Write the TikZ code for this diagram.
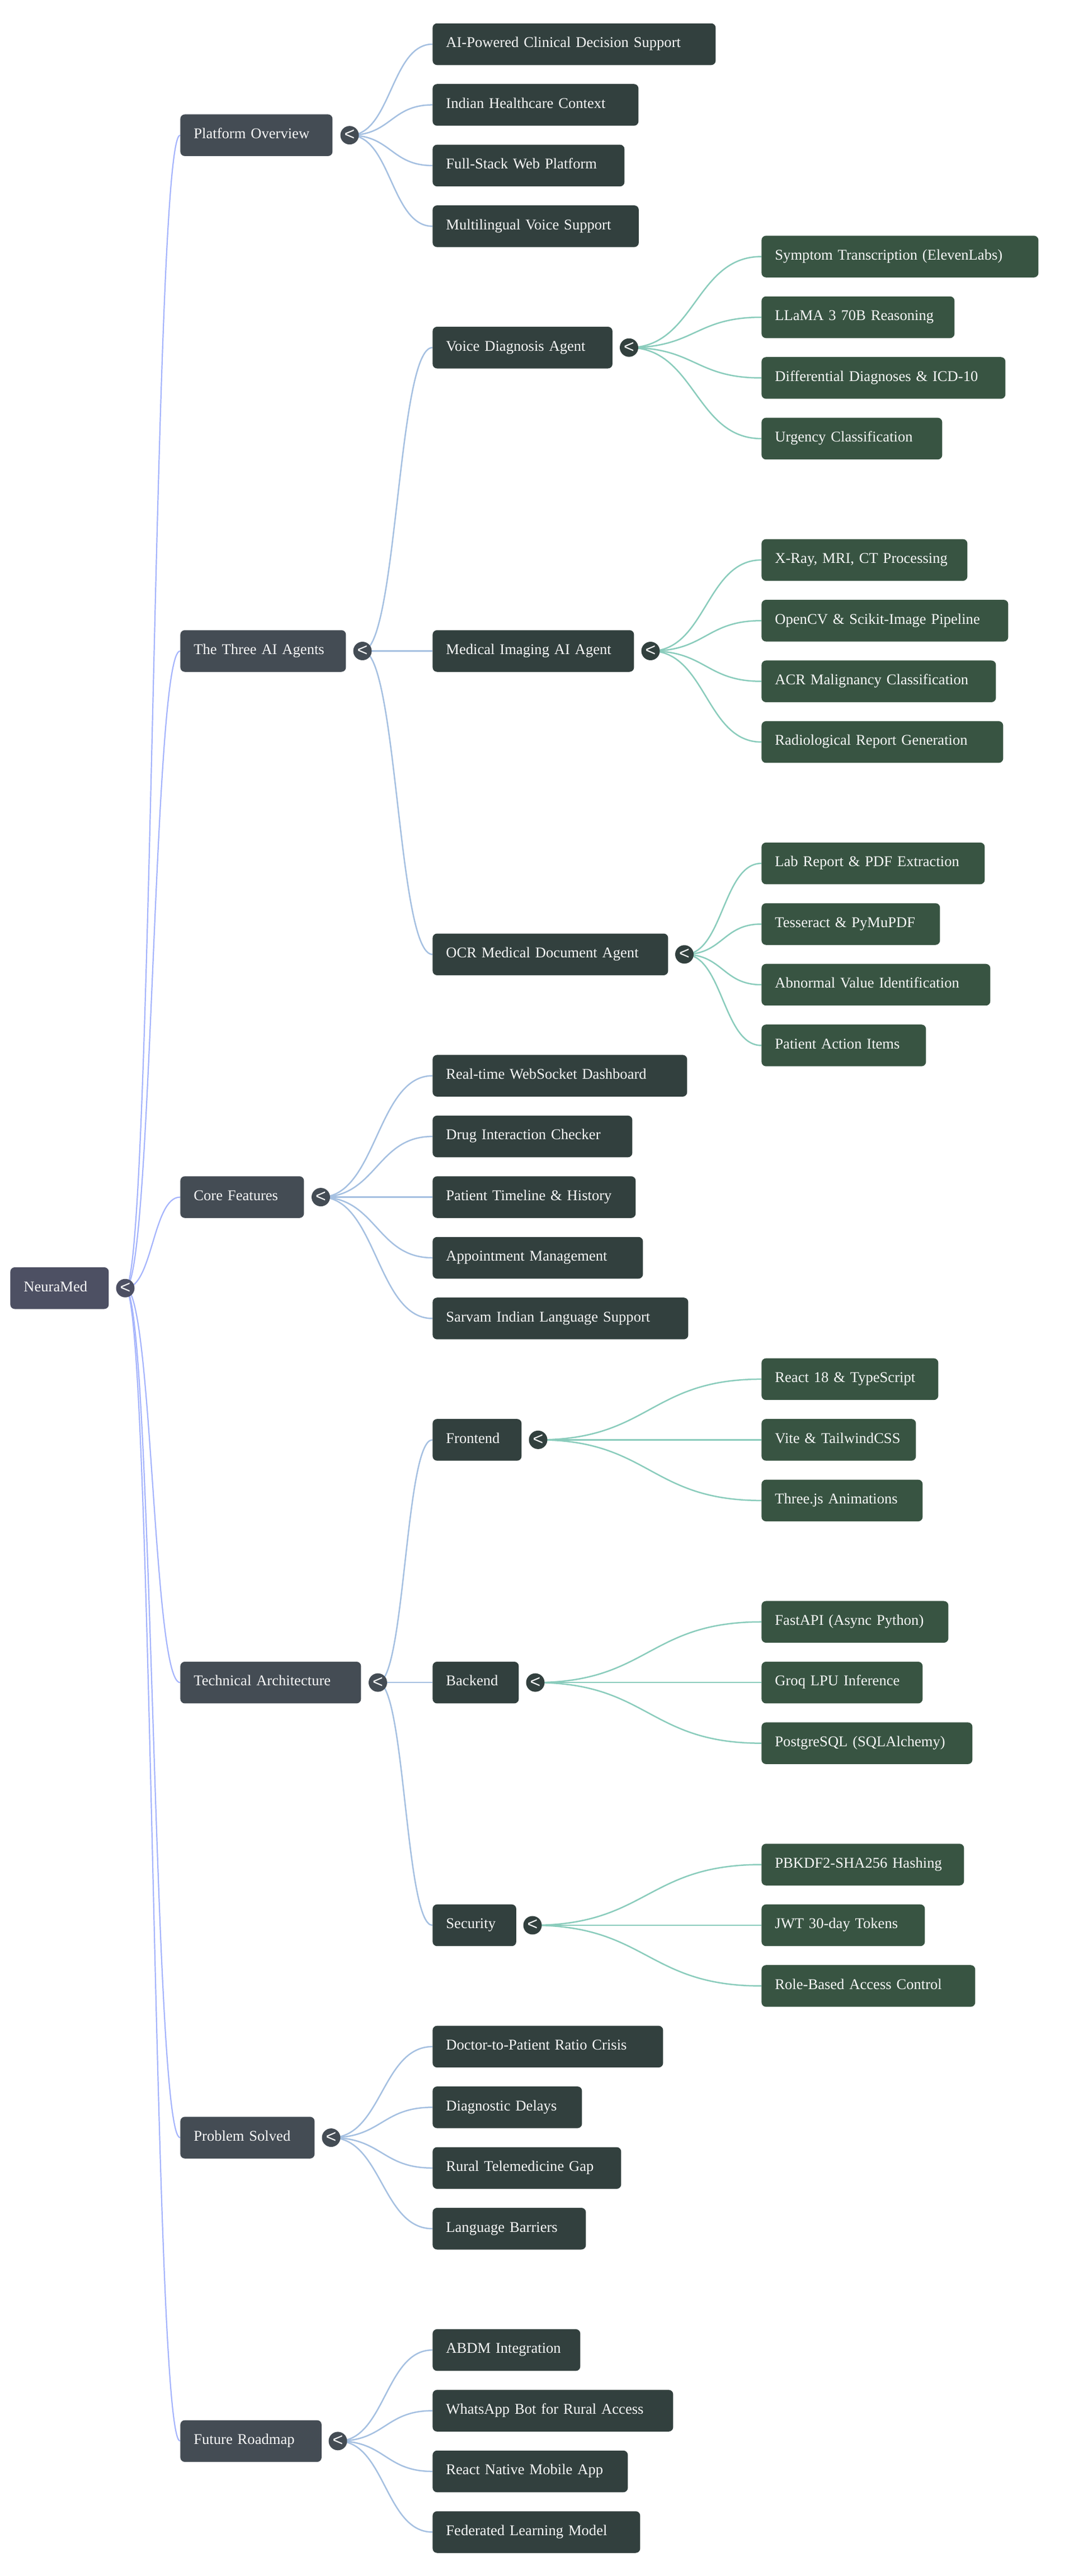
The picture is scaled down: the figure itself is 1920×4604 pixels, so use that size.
\documentclass[tikz,border=0pt]{standalone}
\usepackage{fontspec}
\setmainfont{Liberation Serif}
\newfontfamily\chevfont{Liberation Sans}
\usetikzlibrary{calc,backgrounds}
\definecolor{rootfill}{HTML}{4D5063}
\definecolor{onefill}{HTML}{444C54}
\definecolor{twofill}{HTML}{32403E}
\definecolor{leaffill}{HTML}{385442}
\definecolor{rootedge}{HTML}{A5B4FC}
\definecolor{oneedge}{HTML}{A5C0E1}
\definecolor{twoedge}{HTML}{8ACCBC}
\definecolor{labeltext}{HTML}{F7F7F7}
\tikzset{
  x=0.5pt,y=-0.5pt,
  mmbox/.style={rectangle,rounded corners=4pt,anchor=west,inner xsep=12pt,inner ysep=0pt,
    text height=21.5pt,text depth=15.75pt,align=left,text=labeltext,
    font=\fontsize{13.3pt}{16pt}\selectfont},
  rootbox/.style={mmbox,fill=rootfill},
  onebox/.style={mmbox,fill=onefill},
  twobox/.style={mmbox,fill=twofill},
  leafbox/.style={mmbox,fill=leaffill},
  mmfold/.style={circle,minimum size=16.5pt,inner sep=0pt,text=labeltext,
    font=\chevfont\fontsize{16pt}{16pt}\selectfont},
  rootlink/.style={draw=rootedge,line width=1.1pt},
  onelink/.style={draw=oneedge,line width=1.25pt},
  twolink/.style={draw=twoedge,line width=1.25pt},
}
% name, style, left, right, row, text
\newcommand{\mnode}[6]{%
  \pgfmathsetmacro{\mmw}{(#4-#3-48)*0.5}%
  \pgfmathsetmacro{\mmy}{79+108.45*#5}%
  \node[#2,text width=\mmw pt] (#1) at (#3,\mmy) {#6};}
% name, fill, centre x, row
\newcommand{\mfold}[4]{%
  \pgfmathsetmacro{\mmy}{79+108.45*#4}%
  \node[mmfold,fill=#2] (#1) at (#3,\mmy) {\raisebox{0.4pt}{<}};}
% style, from, to
\newcommand{\mlink}[3]{%
  \draw[#1] (#2.center) .. controls ($(#2.center)!0.5!(#3.west |- #2.center)$)
    and ($(#2.center |- #3.west)!0.5!(#3.west)$) .. (#3.west);}
\begin{document}
\begin{tikzpicture}
\useasboundingbox (0,0) rectangle (1920,4604);
% root
\mnode{root}{rootbox}{18}{194}{20.5}{NeuraMed}
\mfold{rootf}{rootfill}{224}{20.5}
% level one
\mnode{pl}{onebox}{322}{594}{1.5}{Platform Overview}
\mfold{plf}{onefill}{625}{1.5}
\mnode{ag}{onebox}{322}{618}{10}{The Three AI Agents}
\mfold{agf}{onefill}{648}{10}
\mnode{co}{onebox}{322}{543}{19}{Core Features}
\mfold{cof}{onefill}{573.5}{19}
\mnode{te}{onebox}{322}{645}{27}{Technical Architecture}
\mfold{tef}{onefill}{675.5}{27}
\mnode{pr}{onebox}{322}{562}{34.5}{Problem Solved}
\mfold{prf}{onefill}{592}{34.5}
\mnode{fu}{onebox}{322}{574.5}{39.5}{Future Roadmap}
\mfold{fuf}{onefill}{604}{39.5}
% platform children
\mnode{pa}{twobox}{773}{1279}{0}{AI-Powered Clinical Decision Support}
\mnode{pb}{twobox}{773}{1141}{1}{Indian Healthcare Context}
\mnode{pc}{twobox}{773}{1116}{2}{Full-Stack Web Platform}
\mnode{pd}{twobox}{773}{1141.5}{3}{Multilingual Voice Support}
% agents
\mnode{va}{twobox}{773}{1094.5}{5}{Voice Diagnosis Agent}
\mfold{vaf}{twofill}{1124.5}{5}
\mnode{ma}{twobox}{773}{1133}{10}{Medical Imaging AI Agent}
\mfold{maf}{twofill}{1163}{10}
\mnode{oa}{twobox}{773}{1194}{15}{OCR Medical Document Agent}
\mfold{oaf}{twofill}{1223.5}{15}
\mnode{va1}{leafbox}{1361}{1856}{3.5}{Symptom Transcription (ElevenLabs)}
\mnode{va2}{leafbox}{1361}{1706}{4.5}{LLaMA 3 70B Reasoning}
\mnode{va3}{leafbox}{1361}{1797}{5.5}{Differential Diagnoses \& ICD-10}
\mnode{va4}{leafbox}{1361}{1684}{6.5}{Urgency Classification}
\mnode{ma1}{leafbox}{1361}{1729}{8.5}{X-Ray, MRI, CT Processing}
\mnode{ma2}{leafbox}{1361}{1802}{9.5}{OpenCV \& Scikit-Image Pipeline}
\mnode{ma3}{leafbox}{1361}{1780}{10.5}{ACR Malignancy Classification}
\mnode{ma4}{leafbox}{1361}{1793}{11.5}{Radiological Report Generation}
\mnode{oa1}{leafbox}{1361}{1760}{13.5}{Lab Report \& PDF Extraction}
\mnode{oa2}{leafbox}{1361}{1680}{14.5}{Tesseract \& PyMuPDF}
\mnode{oa3}{leafbox}{1361}{1770}{15.5}{Abnormal Value Identification}
\mnode{oa4}{leafbox}{1361}{1655}{16.5}{Patient Action Items}
% core
\mnode{ca}{twobox}{773}{1228}{17}{Real-time WebSocket Dashboard}
\mnode{cb}{twobox}{773}{1130}{18}{Drug Interaction Checker}
\mnode{cc}{twobox}{773}{1136}{19}{Patient Timeline \& History}
\mnode{cd}{twobox}{773}{1149}{20}{Appointment Management}
\mnode{ce}{twobox}{773}{1230}{21}{Sarvam Indian Language Support}
% technical
\mnode{fe}{twobox}{773}{932}{23}{Frontend}
\mfold{fef}{twofill}{962}{23}
\mnode{be}{twobox}{773}{927}{27}{Backend}
\mfold{bef}{twofill}{957}{27}
\mnode{se}{twobox}{773}{922.5}{31}{Security}
\mfold{sef}{twofill}{952}{31}
\mnode{fe1}{leafbox}{1361}{1677}{22}{React 18 \& TypeScript}
\mnode{fe2}{leafbox}{1361}{1637}{23}{Vite \& TailwindCSS}
\mnode{fe3}{leafbox}{1361}{1649}{24}{Three.js Animations}
\mnode{be1}{leafbox}{1361}{1695}{26}{FastAPI (Async Python)}
\mnode{be2}{leafbox}{1361}{1649}{27}{Groq LPU Inference}
\mnode{be3}{leafbox}{1361}{1738}{28}{PostgreSQL (SQLAlchemy)}
\mnode{se1}{leafbox}{1361}{1723}{30}{PBKDF2-SHA256 Hashing}
\mnode{se2}{leafbox}{1361}{1653}{31}{JWT 30-day Tokens}
\mnode{se3}{leafbox}{1361}{1743}{32}{Role-Based Access Control}
% problem
\mnode{ra}{twobox}{773}{1185}{33}{Doctor-to-Patient Ratio Crisis}
\mnode{rb}{twobox}{773}{1040}{34}{Diagnostic Delays}
\mnode{rc}{twobox}{773}{1110}{35}{Rural Telemedicine Gap}
\mnode{rd}{twobox}{773}{1047}{36}{Language Barriers}
% roadmap
\mnode{ua}{twobox}{773}{1037}{38}{ABDM Integration}
\mnode{ub}{twobox}{773}{1203}{39}{WhatsApp Bot for Rural Access}
\mnode{uc}{twobox}{773}{1122}{40}{React Native Mobile App}
\mnode{ud}{twobox}{773}{1144}{41}{Federated Learning Model}
% connectors
\begin{scope}[on background layer]
\foreach \t in {pl,ag,co,te,pr,fu} {\mlink{rootlink}{rootf}{\t}}
\foreach \t in {pa,pb,pc,pd} {\mlink{onelink}{plf}{\t}}
\foreach \t in {va,ma,oa} {\mlink{onelink}{agf}{\t}}
\foreach \t in {ca,cb,cc,cd,ce} {\mlink{onelink}{cof}{\t}}
\foreach \t in {fe,be,se} {\mlink{onelink}{tef}{\t}}
\foreach \t in {ra,rb,rc,rd} {\mlink{onelink}{prf}{\t}}
\foreach \t in {ua,ub,uc,ud} {\mlink{onelink}{fuf}{\t}}
\foreach \t in {va1,va2,va3,va4} {\mlink{twolink}{vaf}{\t}}
\foreach \t in {ma1,ma2,ma3,ma4} {\mlink{twolink}{maf}{\t}}
\foreach \t in {oa1,oa2,oa3,oa4} {\mlink{twolink}{oaf}{\t}}
\foreach \t in {fe1,fe2,fe3} {\mlink{twolink}{fef}{\t}}
\foreach \t in {be1,be2,be3} {\mlink{twolink}{bef}{\t}}
\foreach \t in {se1,se2,se3} {\mlink{twolink}{sef}{\t}}
\end{scope}
\end{tikzpicture}
\end{document}
